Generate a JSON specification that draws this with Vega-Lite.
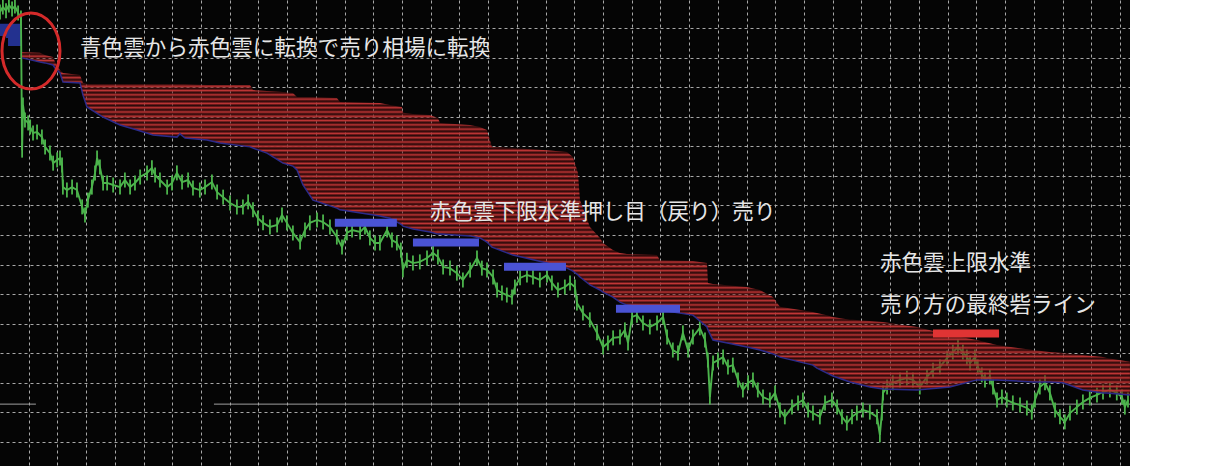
{
  "$schema": "https://vega.github.io/schema/vega-lite/v6.json",
  "width": 1130,
  "height": 466,
  "padding": 0,
  "autosize": {"type": "none"},
  "background": "#ffffff",
  "config": {
    "view": {"fill": "#050505", "stroke": null},
    "axis": {"domain": false, "ticks": false, "labels": false, "title": null, "grid": true, "gridColor": "#a8a8a8", "gridDash": [3, 3], "gridWidth": 1, "zindex": 1}
  },
  "datasets": {
    "price": [
      {"t":0,"p":15.54},{"t":1.0,"p":15.71},{"t":2.1,"p":15.58},{"t":3.1,"p":15.78},{"t":4.2,"p":15.64},{"t":5.2,"p":15.74},{"t":6.3,"p":15.51},{"t":7.3,"p":15.34},{"t":7.7,"p":10.87},{"t":8.0,"p":12.40},{"t":8.7,"p":11.89},{"t":9.8,"p":11.79},{"t":10.5,"p":11.65},{"t":11.5,"p":11.45},{"t":12.9,"p":11.48},{"t":14.6,"p":11.31},{"t":15.7,"p":10.98},{"t":17.4,"p":10.77},{"t":18.5,"p":10.43},{"t":19.9,"p":10.54},{"t":20.9,"p":10.60},{"t":21.6,"p":10.37},{"t":21.9,"p":9.62},{"t":23.3,"p":9.52},{"t":25.1,"p":9.62},{"t":26.8,"p":9.52},{"t":28.6,"p":8.95},{"t":29.6,"p":8.68},{"t":30.6,"p":9.18},{"t":32.0,"p":9.62},{"t":33.1,"p":10.10},{"t":33.8,"p":10.60},{"t":34.8,"p":10.30},{"t":35.9,"p":9.76},{"t":37.3,"p":9.76},{"t":39.4,"p":9.69},{"t":41.8,"p":9.62},{"t":43.5,"p":9.86},{"t":45.3,"p":9.62},{"t":47.0,"p":9.76},{"t":48.8,"p":9.96},{"t":51.2,"p":10.10},{"t":52.9,"p":10.27},{"t":54.0,"p":10.03},{"t":55.7,"p":9.86},{"t":58.2,"p":9.62},{"t":59.9,"p":9.76},{"t":61.6,"p":10.10},{"t":63.4,"p":9.79},{"t":65.5,"p":9.86},{"t":67.2,"p":9.59},{"t":69.6,"p":9.52},{"t":71.4,"p":9.62},{"t":73.8,"p":9.79},{"t":75.6,"p":9.45},{"t":77.7,"p":9.28},{"t":80.1,"p":9.08},{"t":82.5,"p":8.95},{"t":84.6,"p":8.95},{"t":86.4,"p":9.12},{"t":88.1,"p":8.85},{"t":89.8,"p":8.57},{"t":91.6,"p":8.41},{"t":94.0,"p":8.27},{"t":96.5,"p":8.34},{"t":98.2,"p":8.68},{"t":99.9,"p":8.41},{"t":102.0,"p":8.07},{"t":104.5,"p":7.76},{"t":106.2,"p":8.17},{"t":107.9,"p":8.41},{"t":110.4,"p":8.51},{"t":112.5,"p":8.44},{"t":114.9,"p":8.27},{"t":117.3,"p":7.93},{"t":119.1,"p":7.59},{"t":120.8,"p":8.07},{"t":122.6,"p":8.17},{"t":125.4,"p":8.10},{"t":127.1,"p":8.27},{"t":128.8,"p":7.90},{"t":130.6,"p":7.73},{"t":132.3,"p":7.73},{"t":134.8,"p":8.17},{"t":136.5,"p":7.83},{"t":138.2,"p":7.73},{"t":139.6,"p":7.49},{"t":140.3,"p":6.82},{"t":141.7,"p":7.15},{"t":143.8,"p":7.05},{"t":146.2,"p":7.09},{"t":148.7,"p":7.22},{"t":150.8,"p":7.39},{"t":152.5,"p":7.26},{"t":154.3,"p":6.92},{"t":156.7,"p":6.88},{"t":159.1,"p":6.71},{"t":161.2,"p":6.48},{"t":163.7,"p":6.82},{"t":166.1,"p":7.22},{"t":167.8,"p":6.88},{"t":169.6,"p":6.82},{"t":171.7,"p":6.58},{"t":173.1,"p":6.14},{"t":174.8,"p":6.04},{"t":176.5,"p":5.97},{"t":178.3,"p":5.90},{"t":179.3,"p":6.24},{"t":181.1,"p":6.55},{"t":183.5,"p":6.65},{"t":185.6,"p":6.58},{"t":188.0,"p":6.48},{"t":190.5,"p":6.65},{"t":192.2,"p":6.38},{"t":194.3,"p":6.14},{"t":196.7,"p":6.24},{"t":198.5,"p":6.38},{"t":200.2,"p":6.24},{"t":200.9,"p":5.70},{"t":203.0,"p":5.36},{"t":205.4,"p":5.13},{"t":207.9,"p":4.69},{"t":210.0,"p":4.21},{"t":211.7,"p":4.35},{"t":213.5,"p":4.52},{"t":215.9,"p":4.55},{"t":217.6,"p":4.79},{"t":218.7,"p":4.35},{"t":220.1,"p":5.23},{"t":221.8,"p":5.29},{"t":223.9,"p":5.02},{"t":226.3,"p":4.89},{"t":228.8,"p":5.02},{"t":230.9,"p":5.23},{"t":232.3,"p":4.55},{"t":234.3,"p":4.11},{"t":236.1,"p":4.01},{"t":237.8,"p":4.69},{"t":239.6,"p":4.11},{"t":241.3,"p":4.55},{"t":243.7,"p":4.86},{"t":245.5,"p":4.45},{"t":246.5,"p":3.77},{"t":247.2,"p":2.52},{"t":248.3,"p":3.67},{"t":250.0,"p":3.77},{"t":251.8,"p":3.87},{"t":253.5,"p":3.54},{"t":255.2,"p":3.60},{"t":257.0,"p":3.10},{"t":258.7,"p":2.76},{"t":260.5,"p":3.00},{"t":262.2,"p":3.10},{"t":263.9,"p":2.76},{"t":265.7,"p":2.52},{"t":268.1,"p":2.42},{"t":269.9,"p":2.66},{"t":271.6,"p":2.08},{"t":273.3,"p":1.85},{"t":275.8,"p":2.18},{"t":277.9,"p":2.32},{"t":279.6,"p":2.42},{"t":281.4,"p":2.08},{"t":283.1,"p":1.98},{"t":285.5,"p":1.85},{"t":287.3,"p":2.32},{"t":289.7,"p":2.42},{"t":291.5,"p":2.18},{"t":293.2,"p":1.85},{"t":294.9,"p":1.64},{"t":296.7,"p":1.85},{"t":298.4,"p":1.98},{"t":300.5,"p":2.08},{"t":302.9,"p":2.01},{"t":305.4,"p":1.85},{"t":306.4,"p":1.24},{"t":307.1,"p":1.98},{"t":307.5,"p":2.66},{"t":308.9,"p":2.86},{"t":310.9,"p":3.00},{"t":313.4,"p":3.10},{"t":315.8,"p":3.16},{"t":317.9,"p":3.10},{"t":320.3,"p":2.86},{"t":322.8,"p":3.20},{"t":324.9,"p":3.43},{"t":327.3,"p":3.54},{"t":329.8,"p":3.84},{"t":331.8,"p":4.04},{"t":333.6,"p":4.21},{"t":335.3,"p":4.04},{"t":336.7,"p":3.87},{"t":337.8,"p":3.67},{"t":339.5,"p":3.87},{"t":340.5,"p":3.54},{"t":341.9,"p":3.27},{"t":343.0,"p":3.10},{"t":344.7,"p":3.20},{"t":345.8,"p":2.86},{"t":347.2,"p":2.42},{"t":348.9,"p":2.52},{"t":350.6,"p":2.42},{"t":352.7,"p":2.32},{"t":355.2,"p":2.25},{"t":357.6,"p":2.15},{"t":359.3,"p":2.01},{"t":360.4,"p":2.42},{"t":362.1,"p":2.86},{"t":363.9,"p":3.00},{"t":365.6,"p":2.66},{"t":367.4,"p":2.08},{"t":369.1,"p":1.85},{"t":370.8,"p":1.68},{"t":372.6,"p":1.98},{"t":375.0,"p":2.18},{"t":377.1,"p":2.35},{"t":379.5,"p":2.49},{"t":382.0,"p":2.59},{"t":384.1,"p":2.69},{"t":386.5,"p":2.76},{"t":388.9,"p":2.66},{"t":390.7,"p":2.52},{"t":391.7,"p":2.18},{"t":392.8,"p":2.42}
    ],
    "cloud": [
      {"t":7.66,"p":14.19,"p2":13.99},{"t":13.93,"p":14.16,"p2":13.85},{"t":15.67,"p":14.09,"p2":13.82},{"t":18.45,"p":14.02,"p2":13.75},{"t":19.15,"p":13.85,"p2":13.65},{"t":20.89,"p":13.58,"p2":13.48},{"t":21.94,"p":13.48,"p2":13.17},{"t":27.86,"p":13.41,"p2":13.14},{"t":28.90,"p":13.14,"p2":12.73},{"t":30.29,"p":13.11,"p2":12.33},{"t":35.86,"p":13.11,"p2":11.99},{"t":41.78,"p":13.11,"p2":11.72},{"t":47.70,"p":13.11,"p2":11.55},{"t":53.27,"p":13.11,"p2":11.38},{"t":61.63,"p":13.11,"p2":11.31},{"t":62.68,"p":13.11,"p2":11.42},{"t":64.42,"p":13.11,"p2":11.28},{"t":72.08,"p":13.07,"p2":11.21},{"t":76.60,"p":13.07,"p2":11.11},{"t":87.05,"p":13.07,"p2":10.98},{"t":88.09,"p":12.90,"p2":10.94},{"t":92.97,"p":12.87,"p2":10.77},{"t":98.54,"p":12.84,"p2":10.43},{"t":102.02,"p":12.80,"p2":10.33},{"t":103.42,"p":12.67,"p2":10.20},{"t":105.50,"p":12.67,"p2":9.69},{"t":108.99,"p":12.67,"p2":9.18},{"t":117.34,"p":12.63,"p2":8.91},{"t":118.39,"p":12.50,"p2":8.85},{"t":132.32,"p":12.46,"p2":8.64},{"t":135.80,"p":12.40,"p2":8.57},{"t":139.98,"p":12.33,"p2":8.34},{"t":140.32,"p":12.13,"p2":8.30},{"t":143.81,"p":12.09,"p2":8.20},{"t":149.73,"p":12.06,"p2":8.10},{"t":152.51,"p":11.96,"p2":8.03},{"t":153.21,"p":11.79,"p2":8.03},{"t":163.65,"p":11.72,"p2":7.97},{"t":167.14,"p":11.65,"p2":7.90},{"t":169.57,"p":11.55,"p2":7.76},{"t":171.31,"p":10.98,"p2":7.59},{"t":178.63,"p":10.94,"p2":7.32},{"t":190.47,"p":10.87,"p2":7.05},{"t":197.43,"p":10.81,"p2":6.88},{"t":199.52,"p":10.64,"p2":6.78},{"t":201.26,"p":10.10,"p2":6.65},{"t":201.96,"p":9.18,"p2":6.58},{"t":205.44,"p":8.27,"p2":6.31},{"t":208.92,"p":7.90,"p2":6.14},{"t":209.96,"p":7.73,"p2":6.07},{"t":213.45,"p":7.49,"p2":5.90},{"t":215.88,"p":7.39,"p2":5.73},{"t":218.32,"p":7.36,"p2":5.63},{"t":228.77,"p":7.32,"p2":5.50},{"t":229.81,"p":7.15,"p2":5.46},{"t":241.30,"p":7.12,"p2":5.29},{"t":246.18,"p":7.05,"p2":4.89},{"t":246.53,"p":6.38,"p2":4.79},{"t":248.27,"p":6.34,"p2":4.45},{"t":260.11,"p":6.24,"p2":4.21},{"t":264.63,"p":6.14,"p2":4.11},{"t":269.16,"p":5.90,"p2":3.98},{"t":271.60,"p":5.57,"p2":3.87},{"t":283.09,"p":5.40,"p2":3.60},{"t":284.48,"p":5.36,"p2":3.50},{"t":287.97,"p":5.29,"p2":3.33},{"t":290.05,"p":5.23,"p2":3.23},{"t":295.97,"p":5.13,"p2":3.03},{"t":297.01,"p":5.13,"p2":3.00},{"t":302.93,"p":5.09,"p2":2.86},{"t":307.46,"p":5.06,"p2":2.79},{"t":319.30,"p":4.89,"p2":2.76},{"t":330.79,"p":4.62,"p2":2.86},{"t":340.19,"p":4.45,"p2":3.10},{"t":347.15,"p":4.28,"p2":3.10},{"t":359.69,"p":4.11,"p2":3.03},{"t":365.61,"p":4.04,"p2":3.03},{"t":370.14,"p":4.01,"p2":3.00},{"t":377.10,"p":3.94,"p2":2.76},{"t":384.07,"p":3.87,"p2":2.66},{"t":385.46,"p":3.84,"p2":2.66},{"t":393.47,"p":3.71,"p2":2.59}
    ],
    "bluecloud": [
      {"t":0,"p":15.14,"p2":14.73},{"t":2.09,"p":15.14,"p2":14.66},{"t":2.79,"p":15.14,"p2":14.39},{"t":7.66,"p":15.14,"p2":14.32}
    ],
    "bars": [
      {"t":116.6,"t2":138.2,"p":8.41,"kind":"lower"},
      {"t":143.8,"t2":166.8,"p":7.75,"kind":"lower"},
      {"t":175.5,"t2":197.1,"p":6.93,"kind":"lower"},
      {"t":214.5,"t2":236.8,"p":5.51,"kind":"lower"},
      {"t":324.9,"t2":347.9,"p":4.67,"kind":"upper"}
    ],
    "pline": [
      {"t":0,"t2":12.5,"p":2.28},
      {"t":74.5,"t2":393.5,"p":2.28}
    ],
    "notes": [
      {"t":27.86,"p":14.29,"label":"青色雲から赤色雲に転換で売り相場に転換"},
      {"t":149.73,"p":8.76,"label":"赤色雲下限水準押し目（戻り）売り"},
      {"t":306.42,"p":7.02,"label":"赤色雲上限水準"},
      {"t":306.42,"p":5.60,"label":"売り方の最終砦ライン"}
    ],
    "circle": [
      {"t":10.79,"p":14.22}
    ]
  },
  "encoding": {
    "x": {"field": "t", "type": "quantitative", "scale": {"domain": [0, 393.5], "nice": false, "zero": false},
          "axis": {"values": [10,20,30,40,50,60,70,80,90,100,110,120,130,140,150,160,170,180,190,200,210,220,230,240,250,260,270,280,290,300,310,320,330,340,350,360,370,380,390]}},
    "y": {"field": "p", "type": "quantitative", "scale": {"domain": [0.188, 15.947], "nice": false, "zero": false},
          "axis": {"values": [1,2,3,4,5,6,7,8,9,10,11,12,13,14,15]}}
  },
  "layer": [
    {"data": {"name": "bluecloud"}, "mark": {"type": "area", "color": "#23318f", "interpolate": "step-after"},
     "encoding": {"y2": {"field": "p2"}}},
    {"data": {"name": "pline"}, "mark": {"type": "rule", "color": "#a0a0a0", "strokeWidth": 1},
     "encoding": {"x2": {"field": "t2"}}},
    {"data": {"name": "price"}, "mark": {"type": "line", "color": "#4cb44c", "strokeWidth": 1.9}, "encoding": {}},
    {"data": {"name": "price"}, "mark": {"type": "point", "shape": "M 0 -1 L 0 1", "filled": false, "stroke": "#4cb44c", "strokeWidth": 1.8, "opacity": 1, "size": 225}, "encoding": {}},
    {"data": {"name": "cloud"}, "mark": {"type": "area",
      "fill": {"gradient": "linear", "x1": 0, "y1": 0, "x2": 0, "y2": 1, "stops": [
        {"offset":0,"color":"#c23636"},{"offset":0.00625,"color":"rgba(90,16,16,0.45)"},{"offset":0.0125,"color":"#c23636"},{"offset":0.01875,"color":"rgba(90,16,16,0.45)"},{"offset":0.025,"color":"#c23636"},{"offset":0.03125,"color":"rgba(90,16,16,0.45)"},{"offset":0.0375,"color":"#c23636"},{"offset":0.04375,"color":"rgba(90,16,16,0.45)"},{"offset":0.05,"color":"#c23636"},{"offset":0.05625,"color":"rgba(90,16,16,0.45)"},{"offset":0.0625,"color":"#c23636"},{"offset":0.06875,"color":"rgba(90,16,16,0.45)"},{"offset":0.075,"color":"#c23636"},{"offset":0.08125,"color":"rgba(90,16,16,0.45)"},{"offset":0.0875,"color":"#c23636"},{"offset":0.09375,"color":"rgba(90,16,16,0.45)"},
        {"offset":0.1,"color":"#c23636"},{"offset":0.10625,"color":"rgba(90,16,16,0.45)"},{"offset":0.1125,"color":"#c23636"},{"offset":0.11875,"color":"rgba(90,16,16,0.45)"},{"offset":0.125,"color":"#c23636"},{"offset":0.13125,"color":"rgba(90,16,16,0.45)"},{"offset":0.1375,"color":"#c23636"},{"offset":0.14375,"color":"rgba(90,16,16,0.45)"},{"offset":0.15,"color":"#c23636"},{"offset":0.15625,"color":"rgba(90,16,16,0.45)"},{"offset":0.1625,"color":"#c23636"},{"offset":0.16875,"color":"rgba(90,16,16,0.45)"},{"offset":0.175,"color":"#c23636"},{"offset":0.18125,"color":"rgba(90,16,16,0.45)"},{"offset":0.1875,"color":"#c23636"},{"offset":0.19375,"color":"rgba(90,16,16,0.45)"},
        {"offset":0.2,"color":"#c23636"},{"offset":0.20625,"color":"rgba(90,16,16,0.45)"},{"offset":0.2125,"color":"#c23636"},{"offset":0.21875,"color":"rgba(90,16,16,0.45)"},{"offset":0.225,"color":"#c23636"},{"offset":0.23125,"color":"rgba(90,16,16,0.45)"},{"offset":0.2375,"color":"#c23636"},{"offset":0.24375,"color":"rgba(90,16,16,0.45)"},{"offset":0.25,"color":"#c23636"},{"offset":0.25625,"color":"rgba(90,16,16,0.45)"},{"offset":0.2625,"color":"#c23636"},{"offset":0.26875,"color":"rgba(90,16,16,0.45)"},{"offset":0.275,"color":"#c23636"},{"offset":0.28125,"color":"rgba(90,16,16,0.45)"},{"offset":0.2875,"color":"#c23636"},{"offset":0.29375,"color":"rgba(90,16,16,0.45)"},
        {"offset":0.3,"color":"#c23636"},{"offset":0.30625,"color":"rgba(90,16,16,0.45)"},{"offset":0.3125,"color":"#c23636"},{"offset":0.31875,"color":"rgba(90,16,16,0.45)"},{"offset":0.325,"color":"#c23636"},{"offset":0.33125,"color":"rgba(90,16,16,0.45)"},{"offset":0.3375,"color":"#c23636"},{"offset":0.34375,"color":"rgba(90,16,16,0.45)"},{"offset":0.35,"color":"#c23636"},{"offset":0.35625,"color":"rgba(90,16,16,0.45)"},{"offset":0.3625,"color":"#c23636"},{"offset":0.36875,"color":"rgba(90,16,16,0.45)"},{"offset":0.375,"color":"#c23636"},{"offset":0.38125,"color":"rgba(90,16,16,0.45)"},{"offset":0.3875,"color":"#c23636"},{"offset":0.39375,"color":"rgba(90,16,16,0.45)"},
        {"offset":0.4,"color":"#c23636"},{"offset":0.40625,"color":"rgba(90,16,16,0.45)"},{"offset":0.4125,"color":"#c23636"},{"offset":0.41875,"color":"rgba(90,16,16,0.45)"},{"offset":0.425,"color":"#c23636"},{"offset":0.43125,"color":"rgba(90,16,16,0.45)"},{"offset":0.4375,"color":"#c23636"},{"offset":0.44375,"color":"rgba(90,16,16,0.45)"},{"offset":0.45,"color":"#c23636"},{"offset":0.45625,"color":"rgba(90,16,16,0.45)"},{"offset":0.4625,"color":"#c23636"},{"offset":0.46875,"color":"rgba(90,16,16,0.45)"},{"offset":0.475,"color":"#c23636"},{"offset":0.48125,"color":"rgba(90,16,16,0.45)"},{"offset":0.4875,"color":"#c23636"},{"offset":0.49375,"color":"rgba(90,16,16,0.45)"},
        {"offset":0.5,"color":"#c23636"},{"offset":0.50625,"color":"rgba(90,16,16,0.45)"},{"offset":0.5125,"color":"#c23636"},{"offset":0.51875,"color":"rgba(90,16,16,0.45)"},{"offset":0.525,"color":"#c23636"},{"offset":0.53125,"color":"rgba(90,16,16,0.45)"},{"offset":0.5375,"color":"#c23636"},{"offset":0.54375,"color":"rgba(90,16,16,0.45)"},{"offset":0.55,"color":"#c23636"},{"offset":0.55625,"color":"rgba(90,16,16,0.45)"},{"offset":0.5625,"color":"#c23636"},{"offset":0.56875,"color":"rgba(90,16,16,0.45)"},{"offset":0.575,"color":"#c23636"},{"offset":0.58125,"color":"rgba(90,16,16,0.45)"},{"offset":0.5875,"color":"#c23636"},{"offset":0.59375,"color":"rgba(90,16,16,0.45)"},
        {"offset":0.6,"color":"#c23636"},{"offset":0.60625,"color":"rgba(90,16,16,0.45)"},{"offset":0.6125,"color":"#c23636"},{"offset":0.61875,"color":"rgba(90,16,16,0.45)"},{"offset":0.625,"color":"#c23636"},{"offset":0.63125,"color":"rgba(90,16,16,0.45)"},{"offset":0.6375,"color":"#c23636"},{"offset":0.64375,"color":"rgba(90,16,16,0.45)"},{"offset":0.65,"color":"#c23636"},{"offset":0.65625,"color":"rgba(90,16,16,0.45)"},{"offset":0.6625,"color":"#c23636"},{"offset":0.66875,"color":"rgba(90,16,16,0.45)"},{"offset":0.675,"color":"#c23636"},{"offset":0.68125,"color":"rgba(90,16,16,0.45)"},{"offset":0.6875,"color":"#c23636"},{"offset":0.69375,"color":"rgba(90,16,16,0.45)"},
        {"offset":0.7,"color":"#c23636"},{"offset":0.70625,"color":"rgba(90,16,16,0.45)"},{"offset":0.7125,"color":"#c23636"},{"offset":0.71875,"color":"rgba(90,16,16,0.45)"},{"offset":0.725,"color":"#c23636"},{"offset":0.73125,"color":"rgba(90,16,16,0.45)"},{"offset":0.7375,"color":"#c23636"},{"offset":0.74375,"color":"rgba(90,16,16,0.45)"},{"offset":0.75,"color":"#c23636"},{"offset":0.75625,"color":"rgba(90,16,16,0.45)"},{"offset":0.7625,"color":"#c23636"},{"offset":0.76875,"color":"rgba(90,16,16,0.45)"},{"offset":0.775,"color":"#c23636"},{"offset":0.78125,"color":"rgba(90,16,16,0.45)"},{"offset":0.7875,"color":"#c23636"},{"offset":0.79375,"color":"rgba(90,16,16,0.45)"},
        {"offset":0.8,"color":"#c23636"},{"offset":0.80625,"color":"rgba(90,16,16,0.45)"},{"offset":0.8125,"color":"#c23636"},{"offset":0.81875,"color":"rgba(90,16,16,0.45)"},{"offset":0.825,"color":"#c23636"},{"offset":0.83125,"color":"rgba(90,16,16,0.45)"},{"offset":0.8375,"color":"#c23636"},{"offset":0.84375,"color":"rgba(90,16,16,0.45)"},{"offset":0.85,"color":"#c23636"},{"offset":0.85625,"color":"rgba(90,16,16,0.45)"},{"offset":0.8625,"color":"#c23636"},{"offset":0.86875,"color":"rgba(90,16,16,0.45)"},{"offset":0.875,"color":"#c23636"},{"offset":0.88125,"color":"rgba(90,16,16,0.45)"},{"offset":0.8875,"color":"#c23636"},{"offset":0.89375,"color":"rgba(90,16,16,0.45)"},
        {"offset":0.9,"color":"#c23636"},{"offset":0.90625,"color":"rgba(90,16,16,0.45)"},{"offset":0.9125,"color":"#c23636"},{"offset":0.91875,"color":"rgba(90,16,16,0.45)"},{"offset":0.925,"color":"#c23636"},{"offset":0.93125,"color":"rgba(90,16,16,0.45)"},{"offset":0.9375,"color":"#c23636"},{"offset":0.94375,"color":"rgba(90,16,16,0.45)"},{"offset":0.95,"color":"#c23636"},{"offset":0.95625,"color":"rgba(90,16,16,0.45)"},{"offset":0.9625,"color":"#c23636"},{"offset":0.96875,"color":"rgba(90,16,16,0.45)"},{"offset":0.975,"color":"#c23636"},{"offset":0.98125,"color":"rgba(90,16,16,0.45)"},{"offset":0.9875,"color":"#c23636"},{"offset":0.99375,"color":"rgba(90,16,16,0.45)"},
        {"offset":1,"color":"#c23636"}
      ]}},
     "encoding": {"y2": {"field": "p2"}}},
    {"data": {"name": "cloud"}, "mark": {"type": "line", "color": "#2b2b8a", "strokeWidth": 1.5},
     "encoding": {"y": {"field": "p2", "type": "quantitative"}}},
    {"data": {"name": "bars"}, "mark": {"type": "rule", "strokeWidth": 8},
     "encoding": {"x2": {"field": "t2"},
                  "color": {"field": "kind", "type": "nominal", "scale": {"domain": ["lower", "upper"], "range": ["#4a53d4", "#e03434"]}, "legend": null}}},
    {"data": {"name": "circle"}, "mark": {"type": "point", "filled": false, "stroke": "#d42a2a", "strokeWidth": 3, "opacity": 1, "size": 5776,
      "shape": "M -0.763 0 C -0.763 -0.552 -0.421 -1 0 -1 C 0.421 -1 0.763 -0.552 0.763 0 C 0.763 0.552 0.421 1 0 1 C -0.421 1 -0.763 0.552 -0.763 0 Z"}, "encoding": {}},
    {"data": {"name": "notes"}, "mark": {"type": "text", "align": "left", "baseline": "middle", "font": "Noto Sans CJK JP", "fontSize": 21.6, "color": "#e6e6e6"},
     "encoding": {"text": {"field": "label"}}}
  ]
}
